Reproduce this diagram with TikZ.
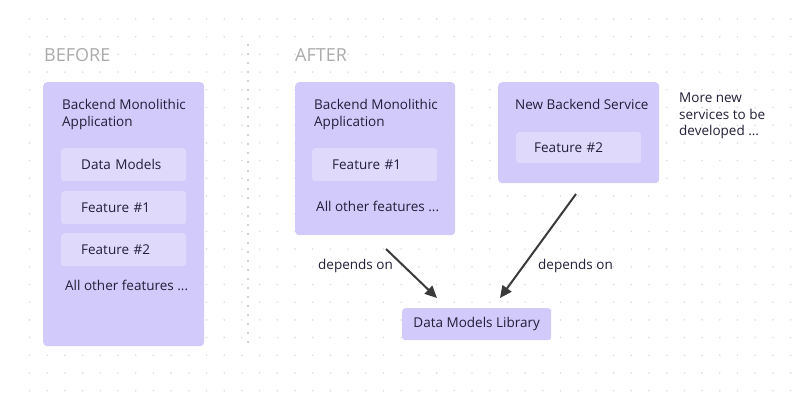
\documentclass[tikz,border=0pt]{standalone}
\usepackage{fontspec}
\setmainfont{Open Sans}
\usetikzlibrary{arrows.meta}
\definecolor{boxfill}{HTML}{D2CAFB}
\definecolor{innerfill}{HTML}{DFD9FC}
\definecolor{txt}{HTML}{221F38}
\definecolor{gridc}{HTML}{DCDCDC}
\definecolor{sepc}{HTML}{C4C4C4}
\definecolor{labelgray}{HTML}{ABABAB}
\definecolor{arrowc}{HTML}{3A3A3A}
\begin{document}
\begin{tikzpicture}[x=1pt,y=-1pt,
  font=\fontsize{13.5}{17}\selectfont, text=txt,
  outerbox/.style={fill=boxfill, rounded corners=4pt, draw=none, anchor=north west, inner sep=0pt},
  innerbox/.style={fill=innerfill, rounded corners=3pt, draw=none, anchor=north west,
    inner xsep=20pt, inner ysep=0pt, text width=85pt, align=left, minimum height=33pt},
  plain/.style={anchor=base west, inner sep=0pt, align=left},
  heading/.style={anchor=base west, inner sep=0pt, text=labelgray, font=\fontsize{18}{22}\selectfont},
  deparrow/.style={draw=arrowc, line width=2pt, -{Triangle[length=12pt,width=11pt]}}]
\useasboundingbox (0,0) rectangle (800,411);
\fill[white] (0,0) rectangle (800,411);
% dot grid
\foreach \i in {0,...,43}{
  \foreach \j in {0,...,21}{
    \fill[gridc] ({29.5+17.7*\i},{19+17.7*\j}) circle (0.9);
  }
}
% separator
\foreach \i in {0,...,33}{
  \fill[sepc] (248,{45+9*\i}) circle (1.2);
}
% headings
\node[heading] (before) at (44,62) {BEFORE};
\node[heading] (after) at (295,62) {AFTER};
% BEFORE box
\node[outerbox, minimum width=161pt, minimum height=264pt] (mono1) at (43,82) {};
\node[plain] (mono1t) at (62,127) {Backend Monolithic\\Application};
\node[innerbox] (dm) at (61,148) {Data Models};
\node[innerbox] (f1a) at (61,191) {Feature \#1};
\node[innerbox] (f2a) at (61,233) {Feature \#2};
\node[plain] (alla) at (65,291) {All other features ...};
% AFTER monolith
\node[outerbox, minimum width=160pt, minimum height=153pt] (mono2) at (295,82) {};
\node[plain] (mono2t) at (314,127) {Backend Monolithic\\Application};
\node[innerbox] (f1b) at (312,148) {Feature \#1};
\node[plain] (allb) at (316,212) {All other features ...};
% new service
\node[outerbox, minimum width=161pt, minimum height=101pt] (svc) at (498,82) {};
\node[plain] (svct) at (515,110) {New Backend Service};
\node[innerbox, inner xsep=18pt, text width=89pt, minimum height=31pt] (f2b) at (516,132) {Feature \#2};
\node[plain, font=\fontsize{13.5}{16.5}\selectfont] (more) at (679,136) {More new\\services to be\\developed ...};
% library
\node[fill=boxfill, rounded corners=3pt, anchor=north west, minimum width=149pt, minimum height=32pt, inner sep=0pt] (lib) at (402,308) {Data Models Library};
% arrows
\coordinate (a1s) at (386,249);
\coordinate (a1e) at (437,298);
\coordinate (a2s) at (576,194);
\coordinate (a2e) at (500,298);
\draw[deparrow] (a1s) -- (a1e);
\draw[deparrow] (a2s) -- (a2e);
\node[plain] (dep1) at (318,270) {depends on};
\node[plain] (dep2) at (538,270) {depends on};
\end{tikzpicture}
\end{document}
